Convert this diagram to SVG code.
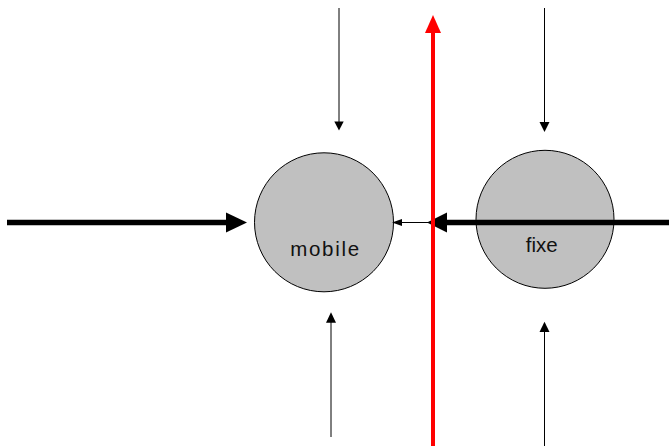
<svg xmlns="http://www.w3.org/2000/svg" width="669" height="446" viewBox="0 0 669 446">
<style>
.node{fill:#c0c0c0;stroke:#000;stroke-width:1}
.lbl{font-family:"Liberation Sans",Arial,sans-serif;font-size:20.5px;fill:#111;text-anchor:middle}
.thin{stroke:#000;stroke-width:1;fill:none}
.thick{stroke:#000;stroke-width:5.5;fill:none}
.red{stroke:#ff0000;stroke-width:4;fill:none}
.hb{fill:#000}
.hr{fill:#ff0000}
</style>
<rect width="669" height="446" fill="#fff"/>
<g id="node-mobile">
<circle class="node" cx="324" cy="222.3" r="69.5"/>
<text class="lbl" x="324.7" y="256" textLength="69" lengthAdjust="spacing">mobile</text>
</g>
<g id="node-fixe">
<circle class="node" cx="545" cy="219.3" r="69"/>
<text class="lbl" x="541.7" y="251.5">fixe</text>
</g>
<g id="connectors">
<line class="thick" x1="7" y1="222.5" x2="228" y2="222.5"/>
<polygon class="hb" points="226,212.5 247,222.5 226,232.5"/>
<line class="thick" x1="669" y1="222.5" x2="445" y2="222.5"/>
<polygon class="hb" points="447,212.5 427,222.5 447,232.5"/>
<line class="thin" x1="430" y1="222.5" x2="400" y2="222.5"/>
<polygon class="hb" points="402,219 392,222.5 402,226"/>
<line class="red" x1="433" y1="446" x2="433" y2="31"/>
<polygon class="hr" points="425,33 433,15 441,33"/>
<line class="thin" x1="339" y1="8" x2="339" y2="123"/>
<polygon class="hb" points="334.3,121.5 339,130.5 343.7,121.5"/>
<line class="thin" x1="544.5" y1="8" x2="544.5" y2="123"/>
<polygon class="hb" points="539.5,122 544.5,132 549.5,122"/>
<line class="thin" x1="331" y1="437" x2="331" y2="321"/>
<polygon class="hb" points="326,322.7 331,312.3 336,322.7"/>
<line class="thin" x1="544.5" y1="446" x2="544.5" y2="331"/>
<polygon class="hb" points="539.5,332 544.5,321.7 549.5,332"/>
</g>
</svg>
